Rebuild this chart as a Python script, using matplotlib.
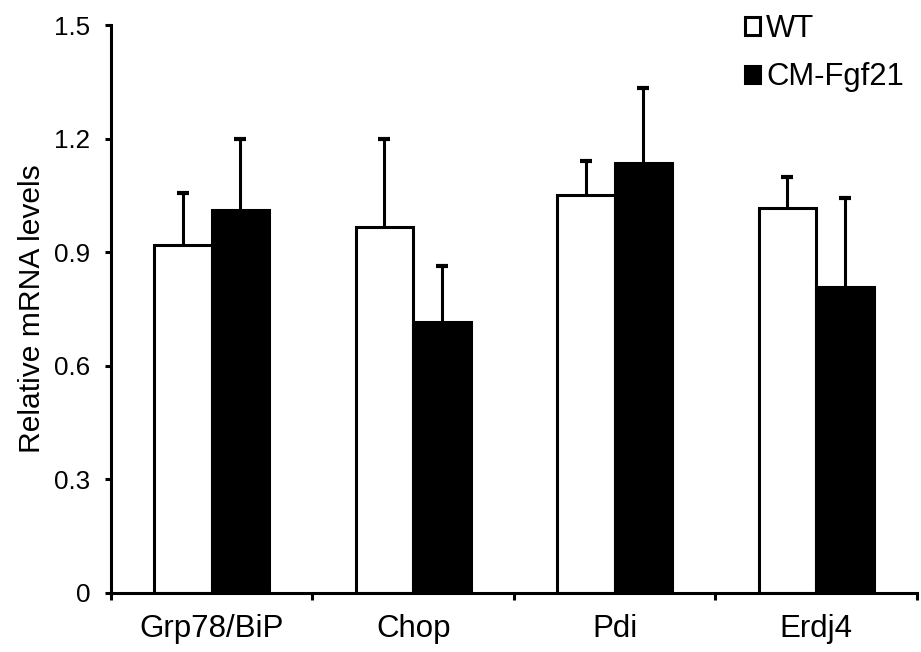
import numpy as np
import matplotlib
matplotlib.use('Agg')
import matplotlib.pyplot as plt
from matplotlib.patches import Patch

plt.rcParams['font.family'] = ['Liberation Sans', 'DejaVu Sans']
plt.rcParams['xtick.labelsize'] = 22.5
plt.rcParams['ytick.labelsize'] = 18.7

genes = ['Grp78/BiP', 'Chop', 'Pdi', 'Erdj4']
wt_mean = [0.918, 0.966, 1.051, 1.016]
wt_err = [0.139, 0.234, 0.090, 0.084]
cm_mean = [1.012, 0.717, 1.135, 0.809]
cm_err = [0.188, 0.147, 0.200, 0.235]
yticks = [0, 0.3, 0.6, 0.9, 1.2, 1.5]
ytick_labels = ['0', '0.3', '0.6', '0.9', '1.2', '1.5']

fig = plt.figure(figsize=(9.21, 6.52), dpi=100)
ax = fig.add_axes([0.1205, 0.0905, 0.875, 0.871])

x = np.arange(len(genes)) + 0.5
w = 0.285

ax.bar(x - w / 2, wt_mean, w, color='white', edgecolor='black', linewidth=2.2, zorder=2)
ax.bar(x + w / 2, cm_mean, w, color='black', edgecolor='black', linewidth=2.2, zorder=2)

# upper error bars only
for xs, m, e in [(x - w / 2, wt_mean, wt_err), (x + w / 2, cm_mean, cm_err)]:
    line, caps, bars = ax.errorbar(xs, m, yerr=[np.zeros(4), e], fmt='none',
                                   ecolor='black', elinewidth=2.2, capsize=4.3,
                                   capthick=3, zorder=1)
    caps[0].set_visible(False)

ax.set_xlim(0, 4)
ax.set_ylim(0, 1.5)
ax.set_yticks(yticks)
ax.set_yticklabels(ytick_labels)
ax.set_xticks(np.arange(5))
ax.set_xticklabels([])
ax.set_xticks(x, minor=True)
ax.set_xticklabels(genes, minor=True)
ax.tick_params(axis='x', which='minor', length=0, pad=15)
ax.tick_params(axis='x', which='major', direction='out', length=5, width=2.2)
ax.tick_params(axis='y', direction='out', length=4, width=2.2, pad=11)

for s in ['top', 'right']:
    ax.spines[s].set_visible(False)
for s in ['left', 'bottom']:
    ax.spines[s].set_linewidth(2.2)
ax.spines['bottom'].set_zorder(3)

ax.set_ylabel('Relative mRNA levels', fontsize=21.6, labelpad=6)

handles = [Patch(facecolor='white', edgecolor='black', linewidth=2.2, label='WT'),
           Patch(facecolor='black', edgecolor='black', linewidth=2.2, label='CM-Fgf21')]
ax.legend(handles=handles, loc='upper right', bbox_to_anchor=(0.984, 1.02),
          frameon=False, fontsize=22.3, handlelength=0.5, handleheight=0.5,
          handletextpad=0.2, labelspacing=0.6, borderaxespad=0, borderpad=0)

plt.savefig('out.png', dpi=100)
